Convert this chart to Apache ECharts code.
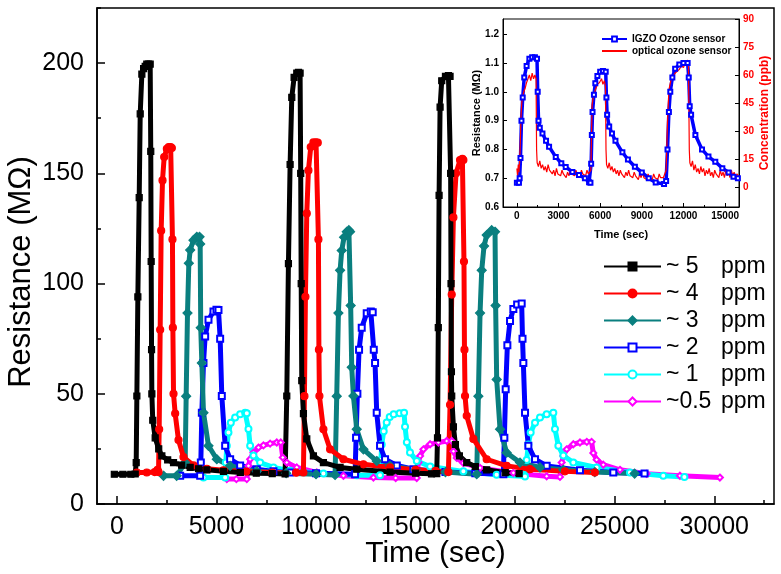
<!DOCTYPE html>
<html>
<head>
<meta charset="utf-8">
<script src="https://cdn.jsdelivr.net/npm/echarts@6.0.0/dist/echarts.min.js"></script>
<style>
  html, body { margin: 0; padding: 0; background: #fff; }
  #chart { width: 781px; height: 574px; }
</style>
</head>
<body>
<div id="chart"></div>
<script>
// main plot: resistance (MOhm) vs time (sec), [time, resistance]
const ppm5 = [[-130,13.5],[300,13.5],[700,13.5],[919,13.6],[969,18.8],[1002,49],[1052,94],[1119,139],[1170,177],[1253,195],[1340,197.5],[1420,198.5],[1500,199.5],[1588,199.5],[1671,199.5],[1700,160],[1720,110],[1740,70],[1755,50],[1800,38],[1922,30],[2100,25],[2257,21.8],[2550,20],[2843,18.8],[3250,17.6],[3679,16.6],[4100,16],[4516,15.5],[5350,14.8],[6200,14.3],[7000,14],[7800,13.8],[8447,13.6],
  [8531,49],[8614,109],[8698,154],[8782,184.5],[8899,193.5],[9033,195.5],[9120,195.8],[9200,195.5],[9230,150],[9255,100],[9284,56],[9367,41],[9535,29.5],[9869,21.8],[10371,18.8],[11208,16.6],[12044,15.8],[13717,14.5],[15000,14],[15800,13.7],[16062,13.8],
  [16100,30],[16140,80],[16180,140],[16230,180],[16313,192],[16500,194],[16650,194.3],[16731,194],[16760,150],[16780,100],[16800,60],[16815,49],[16900,35],[17000,27],[17200,21.8],[17568,18.8],[18000,17],[18571,15.5],[19500,14.2],[20200,13.8]]
const ppm4 = [[1002,14.3],[1500,14.3],[1900,14.5],[2040,15.5],[2090,14.5],[2123,33.9],[2173,79],[2223,124],[2290,146.8],[2374,157.4],[2508,161.1],[2600,161.9],[2700,161.9],[2759,161.5],[2790,120],[2810,80],[2843,50],[2926,41],[3093,29],[3344,21.3],[3846,17.5],[4516,16],[5352,15.3],[6500,14.7],[7800,14.3],[9000,14.2],[9367,14.3],
  [9418,48.9],[9468,94],[9535,131.8],[9618,151.3],[9735,161.9],[9869,164],[10000,164.1],[10087,163.9],[10120,120],[10145,70],[10170,49],[10371,33.9],[10706,24.8],[11375,20.3],[12379,18],[13717,16.6],[15000,15.5],[16000,15],[16648,14.5],
  [16731,45],[16815,95],[16899,130],[17032,150],[17233,156],[17350,156.6],[17400,156],[17430,110],[17455,70],[17484,49],[17568,40],[17902,29.5],[18571,20.3],[19575,17.3],[20746,15.8],[22500,14.8],[24000,14.3]]
const ppm3 = [[2341,12.8],[3000,12.8],[3428,18.8],[3478,48.9],[3545,86.6],[3612,109.2],[3679,115.2],[3846,119.7],[4014,121.2],[4150,121.2],[4181,118],[4210,80],[4265,64],[4348,41.4],[4599,26.4],[5017,20.3],[5687,17.3],[7025,14.9],[8500,14],[10000,13.5],[10957,13.2],
  [11040,48.9],[11124,86.6],[11208,106],[11291,115],[11408,121],[11542,123.5],[11650,124.2],[11709,123.5],[11740,90],[11793,62],[11877,49],[12044,33.9],[12379,24.8],[13048,19.5],[13717,17.3],[15000,15.5],[16500,14.5],[18070,13.5],
  [18153,48.9],[18237,86.6],[18321,106],[18438,117],[18572,122],[18822,124.2],[18990,123.5],[19020,90],[19073,56.5],[19241,33.9],[19575,23.3],[20245,18.8],[21248,16.6],[22419,15.5],[24000,14.5],[26000,13.8]]
const ppm2 = [[3177,12.8],[4181,12.8],[4214,18.8],[4265,41.4],[4348,64],[4432,76],[4599,83.6],[4850,87.3],[5000,88.1],[5101,88],[5185,75],[5268,49],[5436,26.4],[5687,20.3],[6188,17.5],[7025,15.8],[7862,14.8],[8698,14.3],[10000,14],[11960,13.5],
  [12011,30],[12077,50],[12161,70],[12295,80],[12546,86.5],[12750,87.3],[12847,87],[12900,70],[12964,64],[13048,41.4],[13215,26.4],[13466,20.3],[14055,17.5],[14891,15.8],[16500,14.5],[18000,14],[19408,13.5],
  [19458,30],[19525,52],[19609,72],[19743,83],[19910,88.5],[20100,90.5],[20328,91],[20370,75],[20412,64],[20496,41.4],[20663,26.4],[20998,20.3],[21583,17.3],[23256,15.3],[24929,14.3],[26500,13.8]]
const ppm1 = [[4348,12],[5436,12],[5469,18.8],[5519,26.4],[5603,32.4],[5720,36.9],[5938,39.2],[6189,40.7],[6440,41.4],[6523,41.2],[6607,34],[6691,26.4],[6858,22],[7193,18.8],[7862,16.6],[8698,15.1],[10371,13.8],[12044,13],[13215,13],
  [13260,20],[13300,27],[13400,33],[13550,37],[13700,39.5],[13900,40.7],[14200,41.2],[14423,41.4],[14470,35],[14560,28],[14720,23.4],[15060,19.5],[15730,17],[17400,14.8],[19070,13.3],[20496,12.5],
  [20579,20],[20663,27],[20780,32.4],[20998,36.9],[21248,39.2],[21583,40.7],[21918,41.4],[22001,34],[22169,26.4],[22420,22],[22921,18.8],[24092,16.6],[25765,14.3],[27439,12.8],[28500,12.3]]
const ppm05 = [[5519,11.3],[6000,11.3],[6523,11.3],[6607,17.3],[6690,20.3],[6858,23.3],[7109,25.6],[7360,26.6],[7694,27.4],[8029,27.9],[8230,27.9],[8330,21.1],[8531,18.8],[9033,16.6],[10036,14.3],[11375,12.8],[12881,12],[14000,11.8],[15058,11.8],
  [15142,18.8],[15226,21.8],[15393,24.8],[15728,27.1],[16146,27.9],[16564,28.6],[16815,28.6],[16899,23.9],[17066,20.9],[17400,18.6],[18237,16.4],[19910,14.1],[21583,12.6],[22252,12.3],
  [22336,18.8],[22420,21.8],[22587,24.8],[22921,27.1],[23256,27.9],[23600,28.2],[23841,28.2],[23925,23.1],[24092,20.1],[24427,17.8],[25264,15.5],[26602,13.7],[28275,12.8],[30283,12]]

// inset: IGZO resistance (MOhm) and optical concentration (ppb)
const igzo = [[0,0.684],[150,0.684],[200,0.70],[260,0.77],[330,0.90],[420,0.98],[530,1.05],[700,1.09],[900,1.115],[1100,1.12],[1300,1.12],[1450,1.115],[1500,1.00],[1560,0.90],[1650,0.875],[1842,0.855],[2100,0.83],[2320,0.809],[2799,0.774],[3200,0.752],[3517,0.739],[4000,0.722],[4474,0.711],[4900,0.70],[5200,0.686],[5300,0.684],
  [5350,0.75],[5400,0.85],[5450,0.93],[5550,0.99],[5650,1.03],[5800,1.055],[6000,1.07],[6200,1.072],[6400,1.07],[6450,0.98],[6500,0.92],[6650,0.88],[6850,0.855],[7100,0.83],[7600,0.79],[8000,0.765],[8500,0.74],[9000,0.72],[9500,0.70],[10000,0.685],[10600,0.68],
  [10750,0.69],[10850,0.80],[10950,0.93],[11050,1.00],[11200,1.05],[11400,1.08],[11700,1.095],[12000,1.10],[12300,1.10],[12380,1.05],[12450,0.95],[12550,0.92],[12858,0.85],[13336,0.80],[13800,0.775],[14293,0.757],[14800,0.735],[15250,0.72],[15600,0.705],[15920,0.70]]
const optical = [[0,10],[50,6],[100,12],[150,8],[200,14],[250,25],[300,38],[350,45],[400,48],[500,51],[600,53],[700,56],[800,58],[900,60],[1000,57],[1100,61],[1200,58],[1300,60],[1380,58],[1420,20],[1460,13],[1550,11],[1650,14],[1750,10],[1850,12],[1950,9],[2050,11],[2150,8],[2250,12],[2350,9],[2450,10],[2550,7],[2650,9],[2750,6],[2850,10],[2950,7],[3050,8],[3150,6],[3250,9],[3350,7],[3450,8],[3550,5],[3650,8],[3750,6],[3850,9],[3950,7],[4050,8],[4150,6],[4250,9],[4350,7],[4450,8],[4550,6],[4650,9],[4750,7],[4850,8],[4950,6],[5050,9],[5150,7],[5250,8],[5330,9],
  [5380,30],[5420,44],[5500,48],[5650,52],[5800,55],[5950,56],[6100,58],[6200,55],[6300,57],[6380,54],[6420,20],[6460,12],[6550,10],[6650,13],[6750,9],[6850,11],[6950,8],[7050,10],[7150,7],[7250,9],[7350,6],[7450,9],[7550,7],[7650,8],[7750,5],[7850,8],[7950,6],[8050,9],[8150,6],[8250,7],[8350,5],[8450,8],[8550,6],[8650,7],[8750,4],[8850,7],[8950,5],[9050,8],[9150,5],[9250,6],[9350,4],[9450,7],[9550,5],[9650,6],[9750,4],[9850,7],[9950,5],[10050,6],[10150,4],[10250,7],[10350,5],[10450,6],[10550,5],[10650,7],
  [10750,9],[10850,35],[10950,52],[11090,57],[11250,59],[11400,61],[11550,62],[11700,63],[11850,65],[12000,64],[12100,66],[12200,67],[12300,68],[12360,66],[12420,20],[12460,13],[12550,11],[12650,14],[12750,9],[12850,12],[12950,8],[13050,10],[13150,7],[13250,11],[13350,8],[13450,10],[13550,6],[13650,9],[13750,7],[13850,10],[13950,6],[14050,8],[14150,5],[14250,9],[14350,7],[14450,8],[14550,5],[14650,9],[14750,6],[14850,8],[14950,5],[15050,9],[15150,6],[15250,8],[15350,5],[15450,9],[15550,6],[15650,8],[15750,5],[15850,7],[15950,6]]

const mainXLabels = [0, 5000, 10000, 15000, 20000, 25000, 30000]
const mainXMinor = [2500, 7500, 12500, 17500, 22500, 27500, 32500]
const mainYLabels = [0, 50, 100, 150, 200]
const mainYMinor = [25, 75, 125, 175, 225]
const insetXLabels = [0, 3000, 6000, 9000, 12000, 15000]
const insetXMinor = [1500, 4500, 7500, 10500, 13500]
const insetYLabels = [0.6, 0.7, 0.8, 0.9, 1.0, 1.1, 1.2]
const insetCLabels = [0, 15, 30, 45, 60, 75, 90]

const FONT = 'Liberation Sans'
const black = { color: '#000', width: 1.5 }
const thin = { color: '#000', width: 1 }
const plain = v => String(v)

function tickAxis(extra) {
  return Object.assign({
    type: 'value',
    nameMoveOverlap: false,
    splitLine: { show: false },
    axisLine: { show: true, onZero: false, lineStyle: black }
  }, extra)
}

function minorAxis(extra) {
  return Object.assign({
    type: 'value',
    splitLine: { show: false },
    axisLine: { show: false, onZero: false },
    axisLabel: { show: false }
  }, extra)
}

const chart = echarts.init(document.getElementById('chart'), null, { renderer: 'canvas' })

const series = [
  { name: '~0.5', data: ppm05, color: '#ff00ff', symbol: 'emptyDiamond', symbolSize: 6 },
  { name: '~ 1', data: ppm1, color: '#00ffff', symbol: 'emptyCircle', symbolSize: 6 },
  { name: '~ 2', data: ppm2, color: '#0000ff', symbol: 'emptyRect', symbolSize: 6 },
  { name: '~ 3', data: ppm3, color: '#0a7f7f', symbol: 'diamond', symbolSize: 9 },
  { name: '~ 4', data: ppm4, color: '#ff0000', symbol: 'circle', symbolSize: 7 },
  { name: '~ 5', data: ppm5, color: '#000000', symbol: 'rect', symbolSize: 6 }
].map(s => ({
  type: 'line',
  name: s.name,
  data: s.data,
  xAxisIndex: 0,
  yAxisIndex: 0,
  symbol: s.symbol,
  symbolSize: s.symbolSize,
  showAllSymbol: true,
  lineStyle: { color: s.color, width: 5 },
  itemStyle: { color: s.color, borderColor: s.color, borderWidth: 1.2 }
}))

series.push({
  type: 'line', name: 'IGZO Ozone sensor', data: igzo,
  xAxisIndex: 2, yAxisIndex: 2,
  symbol: 'emptyRect', symbolSize: 4, showAllSymbol: true,
  lineStyle: { color: '#0000ff', width: 3.5 },
  itemStyle: { color: '#0000ff', borderColor: '#5050ff', borderWidth: 1 }
})
series.push({
  type: 'line', name: 'optical ozone sensor', data: optical,
  xAxisIndex: 2, yAxisIndex: 3,
  symbol: 'none',
  lineStyle: { color: '#ff0000', width: 1.2 },
  itemStyle: { color: '#ff0000' }
})

const option = {
  animation: false,
  backgroundColor: '#fff',
  grid: [
    { left: 97, right: 7, top: 8, bottom: 70, outerBoundsMode: 'none', containLabel: false,
      show: true, borderColor: '#000', borderWidth: 1.5 },
    { left: 503, top: 19, width: 236, height: 188, outerBoundsMode: 'none', containLabel: false,
      show: true, backgroundColor: '#fff', borderColor: '#000', borderWidth: 1 }
  ],
  xAxis: [
    tickAxis({
      gridIndex: 0, min: -1000, max: 33000, position: 'bottom',
      name: 'Time (sec)', nameLocation: 'middle', nameGap: 35,
      nameTextStyle: { color: '#000', fontFamily: FONT, fontSize: 30, verticalAlign: 'top' },
      axisTick: { inside: true, length: 8, lineStyle: black, customValues: mainXLabels },
      axisLabel: { color: '#000', fontFamily: FONT, fontSize: 25, margin: 11, customValues: mainXLabels, formatter: plain }
    }),
    minorAxis({
      gridIndex: 0, min: -1000, max: 33000, position: 'bottom',
      axisTick: { inside: true, length: 4, lineStyle: black, customValues: mainXMinor }
    }),
    tickAxis({
      gridIndex: 1, min: -1000, max: 16000, position: 'bottom',
      name: 'Time (sec)', nameLocation: 'middle', nameGap: 22,
      nameTextStyle: { color: '#000', fontFamily: FONT, fontSize: 11, fontWeight: 'bold' },
      axisLine: { show: true, onZero: false, lineStyle: thin },
      axisTick: { inside: true, length: 4, lineStyle: thin, customValues: insetXLabels },
      axisLabel: { color: '#000', fontFamily: FONT, fontSize: 10, fontWeight: 'bold', margin: 4, customValues: insetXLabels, formatter: plain }
    }),
    minorAxis({
      gridIndex: 1, min: -1000, max: 16000, position: 'bottom',
      axisTick: { inside: true, length: 2, lineStyle: thin, customValues: insetXMinor }
    })
  ],
  yAxis: [
    tickAxis({
      gridIndex: 0, min: 0, max: 225, position: 'left',
      name: 'Resistance (M\u03a9)', nameLocation: 'middle', nameGap: 60, nameRotate: 90,
      nameTextStyle: { color: '#000', fontFamily: FONT, fontSize: 31, padding: [0, 32, 0, 0] },
      axisTick: { inside: true, length: 8, lineStyle: black, customValues: mainYLabels },
      axisLabel: { color: '#000', fontFamily: FONT, fontSize: 25, margin: 13, customValues: mainYLabels, formatter: plain }
    }),
    minorAxis({
      gridIndex: 0, min: 0, max: 225, position: 'left',
      axisTick: { inside: true, length: 4, lineStyle: black, customValues: mainYMinor }
    }),
    tickAxis({
      gridIndex: 1, min: 0.6, max: 1.253, position: 'left',
      name: 'Resistance (M\u03a9)', nameLocation: 'middle', nameGap: 21, nameRotate: 90,
      nameTextStyle: { color: '#000', fontFamily: FONT, fontSize: 11, fontWeight: 'bold' },
      axisLine: { show: true, onZero: false, lineStyle: thin },
      axisTick: { inside: true, length: 4, lineStyle: thin, customValues: insetYLabels },
      axisLabel: { color: '#000', fontFamily: FONT, fontSize: 10, fontWeight: 'bold', margin: 4,
        customValues: insetYLabels, formatter: v => v.toFixed(1) }
    }),
    tickAxis({
      gridIndex: 1, min: -10.7, max: 90, position: 'right',
      name: 'Concentration (ppb)', nameLocation: 'middle', nameGap: 20, nameRotate: 90,
      nameTextStyle: { color: '#ff0000', fontFamily: FONT, fontSize: 12, fontWeight: 'bold' },
      axisLine: { show: true, onZero: false, lineStyle: thin },
      axisTick: { inside: true, length: 4, lineStyle: thin, customValues: insetCLabels },
      axisLabel: { color: '#ff0000', fontFamily: FONT, fontSize: 10, fontWeight: 'bold', margin: 4, customValues: insetCLabels, formatter: plain }
    })
  ],
  legend: [
    {
      orient: 'vertical', left: 598, top: 250,
      itemWidth: 57, itemHeight: 10, itemGap: 4,
      data: ['~ 5', '~ 4', '~ 3', '~ 2', '~ 1', '~0.5'],
      formatter: n => '{a|' + n + '}{b|ppm}',
      textStyle: {
        color: '#000', fontFamily: FONT, fontSize: 23,
        rich: {
          a: { width: 55, fontSize: 23, fontFamily: FONT, lineHeight: 26, color: '#000' },
          b: { fontSize: 23, fontFamily: FONT, lineHeight: 26, color: '#000' }
        }
      }
    },
    {
      orient: 'vertical', left: 596, top: 29,
      itemWidth: 25, itemHeight: 6, itemGap: 2, symbolKeepAspect: true,
      data: [
        { name: 'IGZO Ozone sensor' },
        { name: 'optical ozone sensor', icon: 'path://M0,0h50v4h-50z', itemStyle: { color: '#ff0000' } }
      ],
      formatter: n => '{t|' + n + '}',
      textStyle: {
        color: '#000', fontFamily: FONT, fontSize: 10, fontWeight: 'bold',
        rich: { t: { fontSize: 10, fontWeight: 'bold', fontFamily: FONT, color: '#000', lineHeight: 12 } }
      }
    }
  ],
  series: series
}

chart.setOption(option)
</script>
</body>
</html>
